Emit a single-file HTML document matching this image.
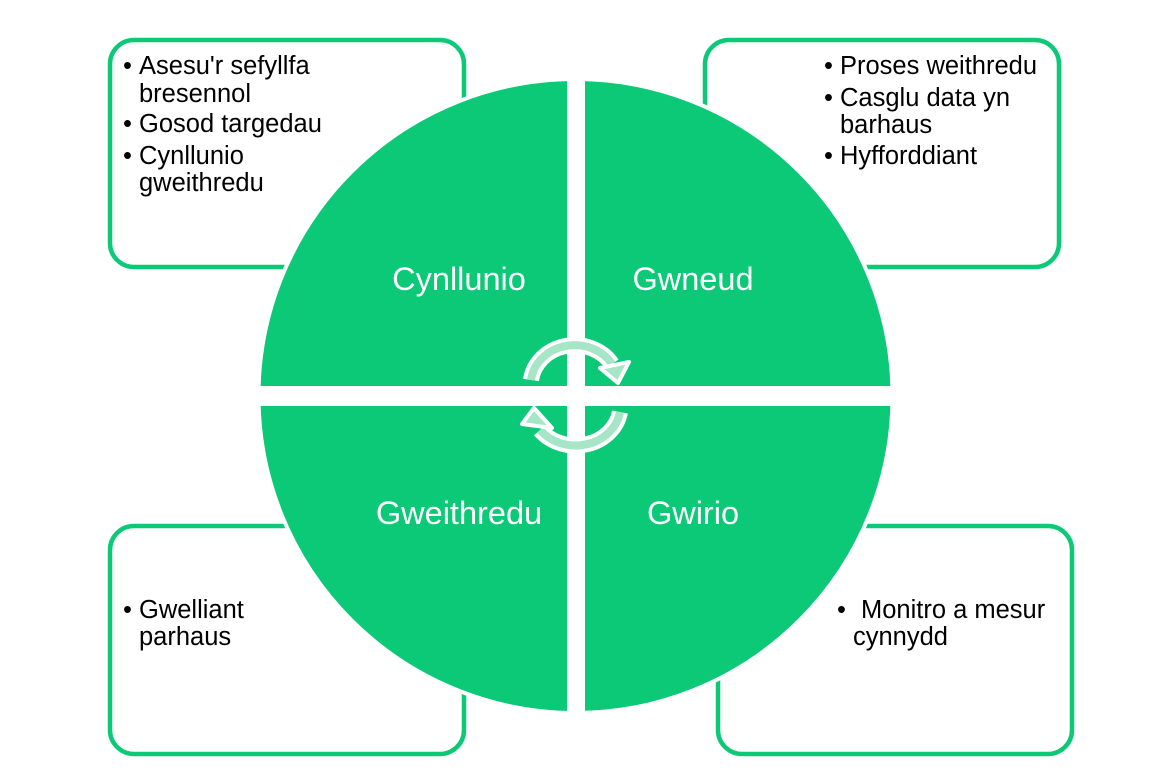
<!DOCTYPE html>
<html><head><meta charset="utf-8"><style>
html,body{margin:0;padding:0;background:#fff;}
svg{display:block;font-family:"Liberation Sans",Arial,sans-serif;}
</style></head><body>
<svg width="1175" height="783" viewBox="0 0 1175 783" xmlns="http://www.w3.org/2000/svg">
<g fill="#fff" stroke="#0BC976" stroke-width="4.5">
<rect x="110" y="40" width="354" height="227" rx="24"/>
<rect x="705" y="40" width="354" height="227" rx="24"/>
<rect x="110" y="526" width="354" height="228" rx="24"/>
<rect x="718" y="526" width="354" height="228" rx="24"/>
</g>
<g font-size="25.5" fill="#000">
<text x="123" y="74">•</text><text x="139" y="74">Asesu'r sefyllfa</text>
<text x="139" y="102">bresennol</text>
<text x="123" y="132">•</text><text x="139" y="132">Gosod targedau</text>
<text x="123" y="164">•</text><text x="139" y="164">Cynllunio</text>
<text x="139" y="191">gweithredu</text>
<text x="824" y="74">•</text><text x="840" y="74">Proses weithredu</text>
<text x="824" y="106">•</text><text x="840" y="106">Casglu data yn</text>
<text x="840" y="133">barhaus</text>
<text x="824" y="164">•</text><text x="840" y="164">Hyfforddiant</text>
<text x="123" y="618">•</text><text x="139" y="618">Gwelliant</text>
<text x="139" y="645">parhaus</text>
<text x="837" y="618">•</text><text x="861" y="618">Monitro a mesur</text>
<text x="853" y="645">cynnydd</text>
</g>
<circle cx="575.5" cy="396" r="317" fill="#0BC976" stroke="#fff" stroke-width="4"/>
<rect x="567" y="60" width="18" height="680" fill="#fff"/>
<rect x="240" y="386" width="680" height="20" fill="#fff"/>
<g font-size="32.5" fill="#fff" text-anchor="middle">
<text x="459" y="290">Cynllunio</text>
<text x="693" y="290">Gwneud</text>
<text x="459" y="524">Gweithredu</text>
<text x="693" y="524">Gwirio</text>
</g>
<g fill="none" stroke-linecap="butt">
<path d="M531 380 A44 40 0 0 1 612 364" stroke="#fff" stroke-width="16"/>
<path d="M531 380 A44 40 0 0 1 612 364" stroke="#A6E6C6" stroke-width="8"/>
<path d="M620 412 A45 40 0 0 1 540 430" stroke="#fff" stroke-width="16"/>
<path d="M620 412 A45 40 0 0 1 540 430" stroke="#A6E6C6" stroke-width="8"/>
</g>
<polygon points="600,368 629,362 618,383" fill="#A6E6C6" stroke="#fff" stroke-width="4" stroke-linejoin="round"/>
<polygon points="552,428 522,424 534,408" fill="#A6E6C6" stroke="#fff" stroke-width="4" stroke-linejoin="round"/>
</svg>
</body></html>
